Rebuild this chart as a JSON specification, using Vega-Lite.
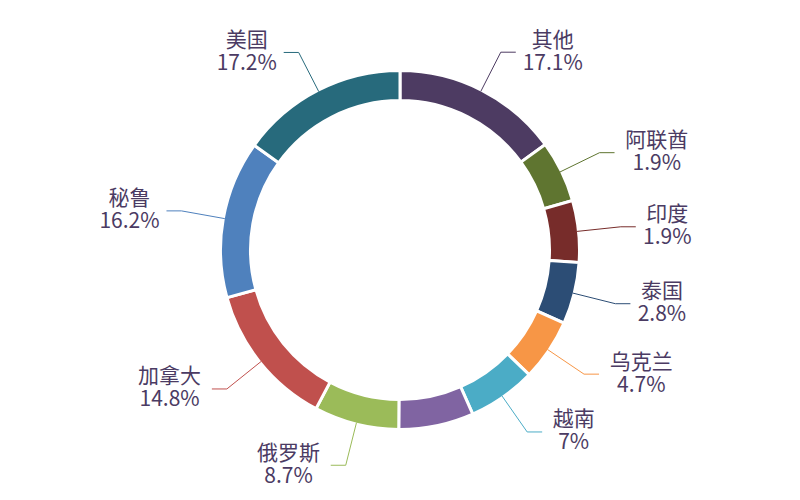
{
  "$schema": "https://vega.github.io/schema/vega-lite/v6.json",
  "width": 800,
  "height": 500,
  "padding": 0,
  "autosize": "none",
  "background": "white",
  "config": {"view": {"stroke": null}},
  "data": {
    "values": [
      {"order": 1, "name": "其他", "deg": 54.0, "pct": "17.1%"},
      {"order": 2, "name": "阿联酋", "deg": 20.0, "pct": "1.9%"},
      {"order": 3, "name": "印度", "deg": 20.0, "pct": "1.9%"},
      {"order": 4, "name": "泰国", "deg": 20.0, "pct": "2.8%"},
      {"order": 5, "name": "乌克兰", "deg": 20.0, "pct": "4.7%"},
      {"order": 6, "name": "越南", "deg": 22.1, "pct": "7%"},
      {"order": 7, "name": "未标注", "deg": 24.3, "pct": null},
      {"order": 8, "name": "俄罗斯", "deg": 27.5, "pct": "8.7%"},
      {"order": 9, "name": "加拿大", "deg": 46.7, "pct": "14.8%"},
      {"order": 10, "name": "秘鲁", "deg": 51.1, "pct": "16.2%"},
      {"order": 11, "name": "美国", "deg": 54.3, "pct": "17.2%"}
    ]
  },
  "transform": [
    {"window": [{"op": "sum", "field": "deg", "as": "cum"}], "sort": [{"field": "order"}], "frame": [null, 0]},
    {"calculate": "(datum.cum - datum.deg / 2) * PI / 180", "as": "mid"},
    {"calculate": "178 * sin(datum.mid)", "as": "x0"},
    {"calculate": "178 * cos(datum.mid)", "as": "y0"},
    {"calculate": "222 * sin(datum.mid)", "as": "x1"},
    {"calculate": "222 * cos(datum.mid)", "as": "y1"},
    {"calculate": "sin(datum.mid) >= 0 ? 1 : -1", "as": "side"},
    {"calculate": "datum.x1 + datum.side * 15", "as": "x2"},
    {"calculate": "datum.pct == null ? 0 : max(length(datum.name) * 21.5 + 10, (length(datum.pct) - 1) * 12.3 - (indexof(datum.pct, '.') >= 0 ? 6.3 : 0) + 21)", "as": "w"},
    {"calculate": "datum.x2 + datum.side * (5 + datum.w / 2)", "as": "x3"},
    {"calculate": "datum.pct == null ? '' : datum.name + '\\n' + datum.pct", "as": "label"}
  ],
  "layer": [
    {
      "mark": {"type": "arc", "radius": 179.5, "radius2": 149.5, "stroke": "#ffffff", "strokeWidth": 3},
      "encoding": {
        "theta": {"field": "deg", "type": "quantitative", "stack": true},
        "order": {"field": "order", "type": "quantitative"},
        "color": {
          "field": "name",
          "type": "nominal",
          "legend": null,
          "scale": {
            "domain": ["其他", "阿联酋", "印度", "泰国", "乌克兰", "越南", "未标注", "俄罗斯", "加拿大", "秘鲁", "美国"],
            "range": ["#4d3b62", "#5f7530", "#772c2a", "#2c4d75", "#f79646", "#4bacc6", "#8064a2", "#9bbb59", "#c0504d", "#4f81bd", "#276a7c"]
          }
        }
      }
    },
    {
      "transform": [{"filter": "datum.pct != null"}],
      "mark": {"type": "rule", "strokeWidth": 1},
      "encoding": {
        "x": {"field": "x0", "type": "quantitative", "scale": {"domain": [-400, 400], "nice": false, "zero": false}, "axis": null},
        "y": {"field": "y0", "type": "quantitative", "scale": {"domain": [-250, 250], "nice": false, "zero": false}, "axis": null},
        "x2": {"field": "x1"},
        "y2": {"field": "y1"},
        "color": {"field": "name", "type": "nominal", "legend": null}
      }
    },
    {
      "transform": [{"filter": "datum.pct != null"}],
      "mark": {"type": "rule", "strokeWidth": 1},
      "encoding": {
        "x": {"field": "x1", "type": "quantitative", "scale": {"domain": [-400, 400], "nice": false, "zero": false}, "axis": null},
        "y": {"field": "y1", "type": "quantitative", "scale": {"domain": [-250, 250], "nice": false, "zero": false}, "axis": null},
        "x2": {"field": "x2"},
        "color": {"field": "name", "type": "nominal", "legend": null}
      }
    },
    {
      "transform": [{"filter": "datum.pct != null"}],
      "mark": {"type": "text", "align": "center", "baseline": "middle", "dy": -11.5, "lineBreak": "\n", "fontSize": 21, "lineHeight": 23, "font": "Noto Sans CJK SC", "color": "#4b3b63"},
      "encoding": {
        "x": {"field": "x3", "type": "quantitative", "scale": {"domain": [-400, 400], "nice": false, "zero": false}, "axis": null},
        "y": {"field": "y1", "type": "quantitative", "scale": {"domain": [-250, 250], "nice": false, "zero": false}, "axis": null},
        "text": {"field": "label"}
      }
    }
  ]
}
